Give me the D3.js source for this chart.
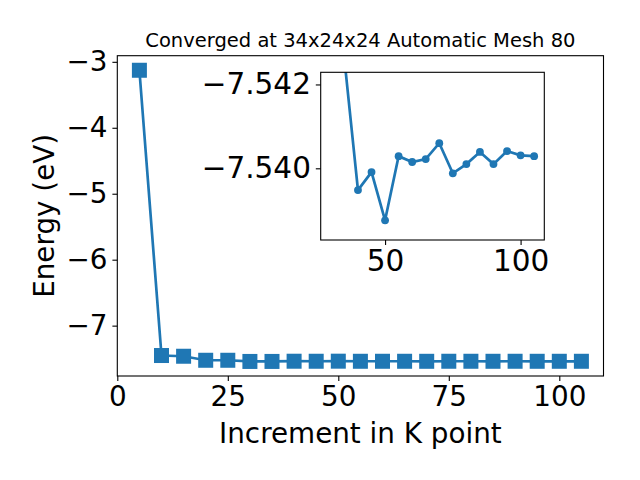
<!DOCTYPE html>
<html>
<head>
<meta charset="utf-8">
<script src="https://cdn.jsdelivr.net/npm/d3@7"></script>
<style>
  body { margin: 0; background: #fff; }
  svg { font-family: "DejaVu Sans", sans-serif; }
  .tick line { stroke: #000; stroke-width: 1.1; }
  .tick text { fill: #000; }
</style>
</head>
<body>
<div id="chart"></div>
<script>
var kpoints = [5, 10, 15, 20, 25, 30, 35, 40, 45, 50, 55, 60, 65, 70, 75, 80, 85, 90, 95, 100, 105];
var energy = [-3.128, -7.453, -7.464, -7.525, -7.525, -7.5428, -7.5426, -7.53948, -7.53991, -7.53876,
  -7.54029, -7.54015, -7.54022, -7.54060, -7.53988, -7.54010, -7.54039, -7.54010, -7.54041, -7.54031, -7.54029];

var xTicks = [0, 25, 50, 75, 100];
var yTicks = [-7, -6, -5, -4, -3];
var insetStart = 30;
var insetYLim = [-7.54229, -7.53829];
var insetXTicks = [50, 100];
var insetYTicks = [-7.542, -7.540];

var titleText = "Converged at 34x24x24 Automatic Mesh 80";
var xLabel = "Increment in K point";
var yLabel = "Energy (eV)";

var color = "#1f77b4";

var data = kpoints.map(function (k, i) { return {k: k, e: energy[i]}; });
var insetData = data.filter(function (d) { return d.k >= insetStart; });

var svg = d3.select("#chart").append("svg")
  .attr("width", 640)
  .attr("height", 480);

// padded extent, like matplotlib autoscale
function padded(vals) {
  var ext = d3.extent(vals), r = ext[1] - ext[0];
  return [ext[0] - 0.05 * r, ext[1] + 0.05 * r];
}

var main = {left: 117.3, right: 603.5, top: 55.7, bottom: 376};
var x = d3.scaleLinear().domain(padded(kpoints)).range([main.left, main.right]);
var y = d3.scaleLinear().domain(padded(energy)).range([main.bottom, main.top]);

svg.append("defs").append("clipPath").attr("id", "clipMain")
  .append("rect")
  .attr("x", main.left).attr("y", main.top)
  .attr("width", main.right - main.left).attr("height", main.bottom - main.top);

var line = d3.line().x(function (d) { return x(d.k); }).y(function (d) { return y(d.e); });

var gMain = svg.append("g").attr("clip-path", "url(#clipMain)");
gMain.append("path").datum(data)
  .attr("d", line)
  .attr("fill", "none")
  .attr("stroke", color)
  .attr("stroke-width", 2.7);

var ms = 15;
gMain.selectAll("rect.m").data(data).enter().append("rect")
  .attr("class", "m")
  .attr("x", function (d) { return x(d.k) - ms / 2; })
  .attr("y", function (d) { return y(d.e) - ms / 2; })
  .attr("width", ms).attr("height", ms)
  .attr("fill", color);

// axes
var xAxis = d3.axisBottom(x).tickValues(xTicks).tickFormat(d3.format("d"))
  .tickSizeOuter(0).tickSize(4.9).tickPadding(4.9);
var yAxis = d3.axisLeft(y).tickValues(yTicks).tickFormat(d3.format("d"))
  .tickSizeOuter(0).tickSize(4.9).tickPadding(4.9);

var gx = svg.append("g").attr("transform", "translate(0," + main.bottom + ")").call(xAxis);
gx.select(".domain").remove();
gx.selectAll("text").attr("font-size", 27.8).attr("font-family", "DejaVu Sans");

var gy = svg.append("g").attr("transform", "translate(" + main.left + ",0)").call(yAxis);
gy.select(".domain").remove();
gy.selectAll("text").attr("font-size", 27.8).attr("font-family", "DejaVu Sans");

svg.append("rect")
  .attr("x", main.left).attr("y", main.top)
  .attr("width", main.right - main.left).attr("height", main.bottom - main.top)
  .attr("fill", "none").attr("stroke", "#000").attr("stroke-width", 1.1);

svg.append("text")
  .attr("x", (main.left + main.right) / 2).attr("y", 47.3)
  .attr("text-anchor", "middle").attr("font-size", 19.5)
  .text(titleText);

svg.append("text")
  .attr("x", (main.left + main.right) / 2).attr("y", 443.3)
  .attr("text-anchor", "middle").attr("font-size", 27.8)
  .text(xLabel);

svg.append("text")
  .attr("transform", "translate(54," + (main.top + main.bottom) / 2 + ") rotate(-90)")
  .attr("text-anchor", "middle").attr("font-size", 27.8)
  .text(yLabel);

// inset
var ins = {left: 320.7, right: 544.3, top: 72.3, bottom: 240};
var xi = d3.scaleLinear().domain(padded(insetData.map(function (d) { return d.k; })))
  .range([ins.left, ins.right]);
// inverted y axis in the inset
var yi = d3.scaleLinear().domain(insetYLim).range([ins.top, ins.bottom]);

svg.append("rect")
  .attr("x", ins.left).attr("y", ins.top)
  .attr("width", ins.right - ins.left).attr("height", ins.bottom - ins.top)
  .attr("fill", "#fff");

svg.select("defs").append("clipPath").attr("id", "clipInset")
  .append("rect")
  .attr("x", ins.left).attr("y", ins.top)
  .attr("width", ins.right - ins.left).attr("height", ins.bottom - ins.top);

var lineI = d3.line().x(function (d) { return xi(d.k); }).y(function (d) { return yi(d.e); });
var gIns = svg.append("g").attr("clip-path", "url(#clipInset)");
gIns.append("path").datum(insetData)
  .attr("d", lineI)
  .attr("fill", "none")
  .attr("stroke", color)
  .attr("stroke-width", 2.7);
gIns.selectAll("circle").data(insetData).enter().append("circle")
  .attr("cx", function (d) { return xi(d.k); })
  .attr("cy", function (d) { return yi(d.e); })
  .attr("r", 3.9)
  .attr("fill", color);

var xiAxis = d3.axisBottom(xi).tickValues(insetXTicks).tickFormat(d3.format("d"))
  .tickSizeOuter(0).tickSize(4.9).tickPadding(4.9);
var yiAxis = d3.axisLeft(yi).tickValues(insetYTicks).tickFormat(d3.format(".3f"))
  .tickSizeOuter(0).tickSize(4.9).tickPadding(4.9);

var gxi = svg.append("g").attr("transform", "translate(0," + ins.bottom + ")").call(xiAxis);
gxi.select(".domain").remove();
gxi.selectAll("text").attr("font-size", 29.5).attr("font-family", "DejaVu Sans");

var gyi = svg.append("g").attr("transform", "translate(" + ins.left + ",0)").call(yiAxis);
gyi.select(".domain").remove();
gyi.selectAll("text").attr("font-size", 29.5).attr("font-family", "DejaVu Sans");

svg.append("rect")
  .attr("x", ins.left).attr("y", ins.top)
  .attr("width", ins.right - ins.left).attr("height", ins.bottom - ins.top)
  .attr("fill", "none").attr("stroke", "#000").attr("stroke-width", 1.1);
</script>
</body>
</html>
